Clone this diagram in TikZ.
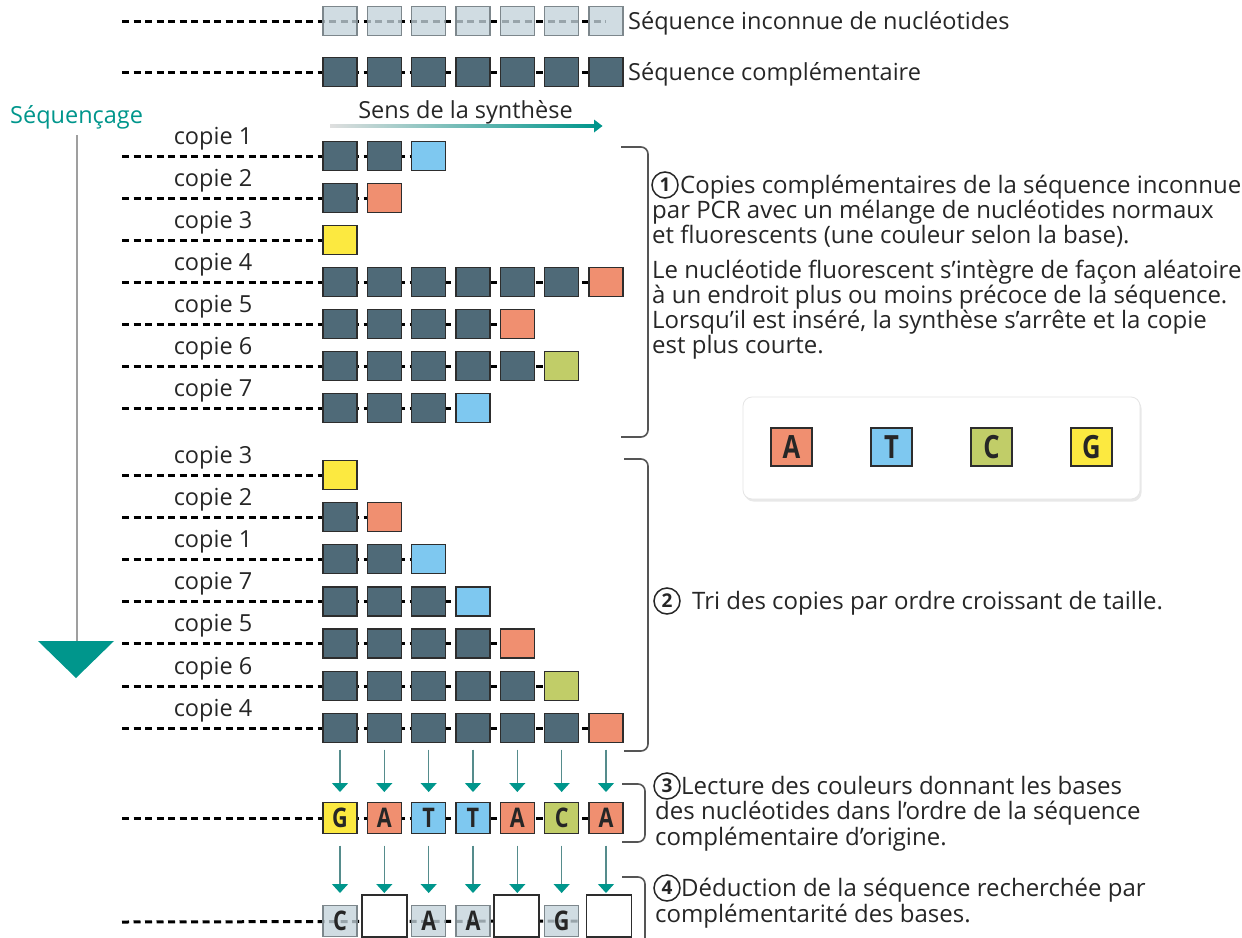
\documentclass[tikz,border=0pt]{standalone}
\usepackage{fontspec}
\setmainfont{Open Sans}
\usepackage{graphicx}
\usetikzlibrary{arrows.meta,shadows,backgrounds}
\definecolor{tealc}{RGB}{0,150,140}
\definecolor{dkc}{RGB}{79,106,120}
\definecolor{Tc}{RGB}{126,200,240}
\definecolor{Ac}{RGB}{240,143,112}
\definecolor{Cc}{RGB}{193,205,104}
\definecolor{Gc}{RGB}{252,233,64}
\definecolor{Uc}{RGB}{196,211,219}
\definecolor{Ubord}{RGB}{125,135,140}
\definecolor{bordc}{RGB}{45,45,45}
\definecolor{txtc}{RGB}{38,38,38}
\definecolor{lnc}{RGB}{85,140,140}
\definecolor{brkc}{RGB}{85,85,85}
\newcommand\fs[1]{\fontsize{#1}{#1}\selectfont}
\newcommand\cond[1]{\scalebox{0.8}[1]{#1}}
% #1 name, #2 y, #3 number of squares, #4 colours, #5 copy number
\newcommand\copyrow[5]{%
  \foreach \c [count=\i] in {#4} {\node[sq,fill=\c] (#1-\i) at ({340+44.33*(\i-1)},#2) {};}
  \coordinate (#1-s) at (122,#2);
  \begin{pgfonlayer}{background}\draw[dline] (#1-s) -- (#1-#3.west);\end{pgfonlayer}
  \node[lbl] (#1-l) at (213,{#2-12}) {copie #5};
}
\begin{document}
\begin{tikzpicture}[x=1pt,y=-1pt,
  sq/.style={draw=bordc,line width=1.3pt,minimum width=34pt,minimum height=29pt,inner sep=0pt,outer sep=0pt},
  usq/.style={sq,draw=Ubord,fill=Uc,fill opacity=0.78,text opacity=1},
  dline/.style={line width=3pt,dash pattern=on 7pt off 4.5pt,black},
  txt/.style={inner sep=0pt,text=txtc,font=\fs{23.5}},
  lbl/.style={txt,anchor=base},
  stxt/.style={inner sep=0pt,text=txtc,font=\fs{24},anchor=base west},
  circ/.style={circle,draw=txtc,line width=1.5pt,minimum size=26pt,inner sep=0pt,font=\bfseries\fs{19},text=txtc},
  brk/.style={draw=brkc,line width=1.6pt,rounded corners=7pt},
  darr/.style={draw=lnc,line width=1.3pt,-{Triangle[width=16pt,length=9pt,color=tealc]}},
  bletter/.style={font=\bfseries\fs{27},text=txtc},
  wbox/.style={draw=bordc,line width=1.4pt,fill=white,minimum width=45pt,minimum height=42pt,inner sep=0pt}
]
\useasboundingbox (0,0) rectangle (1242,937);
\begin{pgfonlayer}{background}\fill[white] (0,0) rectangle (1242,937);\end{pgfonlayer}

% ---- top sequences
\foreach \i in {1,...,7} {\node[usq] (U-\i) at ({340+44.33*(\i-1)},21) {};}
\coordinate (U-s) at (122,21);
\begin{pgfonlayer}{background}\draw[dline] (U-s) -- (U-7.center);\end{pgfonlayer}
\node[txt,anchor=base west] (Ut) at (628,29) {Séquence inconnue de nucléotides};

\foreach \i in {1,...,7} {\node[sq,fill=dkc] (K-\i) at ({340+44.33*(\i-1)},72) {};}
\coordinate (K-s) at (122,72);
\begin{pgfonlayer}{background}\draw[dline] (K-s) -- (K-7.west);\end{pgfonlayer}
\node[txt,anchor=base west] (Kt) at (628,80) {Séquence complémentaire};

% ---- sequencing arrow
\node[inner sep=0pt,anchor=base west,font=\fs{23.5},text=tealc] (seq) at (10,123) {Séquençage};
\coordinate (vtop) at (77,135);
\coordinate (vbot) at (77,642);
\draw[line width=1.5pt,draw=gray!75] (vtop) -- (vbot);
\fill[tealc] (38,641) -- (114,641) -- (76,678) -- cycle;

% ---- synthesis direction
\node[lbl] (sens) at (465.5,118) {Sens de la synthèse};
\shade[left color=gray!25,right color=tealc] (330,124.8) rectangle (596,127.3);
\fill[tealc] (594,119.5) -- (602.5,126) -- (594,132.5) -- cycle;

% ---- copies
\copyrow{A1}{156}{3}{dkc,dkc,Tc}{1}
\copyrow{A2}{198}{2}{dkc,Ac}{2}
\copyrow{A3}{240}{1}{Gc}{3}
\copyrow{A4}{282}{7}{dkc,dkc,dkc,dkc,dkc,dkc,Ac}{4}
\copyrow{A5}{324}{5}{dkc,dkc,dkc,dkc,Ac}{5}
\copyrow{A6}{366}{6}{dkc,dkc,dkc,dkc,dkc,Cc}{6}
\copyrow{A7}{408}{4}{dkc,dkc,dkc,Tc}{7}

\copyrow{S1}{475}{1}{Gc}{3}
\copyrow{S2}{517}{2}{dkc,Ac}{2}
\copyrow{S3}{559}{3}{dkc,dkc,Tc}{1}
\copyrow{S4}{601.5}{4}{dkc,dkc,dkc,Tc}{7}
\copyrow{S5}{643.5}{5}{dkc,dkc,dkc,dkc,Ac}{5}
\copyrow{S6}{686}{6}{dkc,dkc,dkc,dkc,dkc,Cc}{6}
\copyrow{S7}{728}{7}{dkc,dkc,dkc,dkc,dkc,dkc,Ac}{4}

% ---- read row
\foreach \c/\l [count=\i] in {Gc/G,Ac/A,Tc/T,Tc/T,Ac/A,Cc/C,Ac/A}
  {\node[sq,fill=\c,minimum height=31pt,bletter] (R-\i) at ({340+44.33*(\i-1)},818) {\cond{\l}};}
\coordinate (R-s) at (122,818);
\begin{pgfonlayer}{background}\draw[dline] (R-s) -- (R-7.west);\end{pgfonlayer}

% ---- deduced row
\node[usq,minimum height=31pt,bletter] (B-1) at (340,921) {\cond{C}};
\node[wbox] (B-2) at (384.3,916) {};
\node[usq,minimum height=31pt,bletter] (B-3) at (428.7,921) {\cond{A}};
\node[usq,minimum height=31pt,bletter] (B-4) at (473,921) {\cond{A}};
\node[wbox] (B-5) at (516.3,916) {};
\node[usq,minimum height=31pt,bletter] (B-6) at (561.7,921) {\cond{G}};
\node[wbox] (B-7) at (609,916) {};
\coordinate (B-s) at (122,922);
\begin{pgfonlayer}{background}\draw[dline] (B-s) -- (B-6.east);\end{pgfonlayer}

% ---- arrows
\coordinate (tip1) at (0,792);
\coordinate (tip2) at (0,893);
\foreach \i in {1,...,7} {
  \draw[darr,shorten <=7pt] (S7-\i.south) -- (S7-\i.south |- tip1);
  \draw[darr,shorten <=12pt] (R-\i.south) -- (R-\i.south |- tip2);
}

% ---- brackets
\draw[brk] (621,147) -| (648,437) -- (621,437);
\draw[brk] (624,459) -| (648,751) -- (624,751);
\draw[brk] (622,784) -| (645,842) -- (622,842);
\draw[brk] (622,877) -| (645,945);

% ---- legend
\node[draw=gray!20,line width=0.8pt,fill=white,rounded corners=9pt,minimum width=397pt,minimum height=102pt,
      drop shadow={opacity=0.18,shadow xshift=1.5pt,shadow yshift=-2.5pt}] (leg) at (941.5,448) {};
\foreach \c/\l/\x in {Ac/A/791.5,Tc/T/891.5,Cc/C/991.5,Gc/G/1091.5}
  {\node[sq,minimum width=41pt,minimum height=38pt,fill=\c,line width=1.5pt,font=\bfseries\fs{32},text=txtc] (L\l) at (\x,447) {\cond{\l}};}

% ---- step 1
\node[circ] (c1) at (665,185) {1};
\node[stxt] (s1a) at (680,193) {Copies complémentaires de la séquence inconnue};
\node[stxt] (s1b) at (652,218) {par PCR avec un mélange de nucléotides normaux};
\node[stxt] (s1c) at (652,243) {et fluorescents (une couleur selon la base).};
\node[stxt] (s1d) at (652,278) {Le nucléotide fluorescent s’intègre de façon aléatoire};
\node[stxt] (s1e) at (652,303) {à un endroit plus ou moins précoce de la séquence.};
\node[stxt] (s1f) at (652,328) {Lorsqu’il est inséré, la synthèse s’arrête et la copie};
\node[stxt] (s1g) at (652,353) {est plus courte.};

% ---- step 2
\node[circ] (c2) at (667,601) {2};
\node[stxt] (s2a) at (692,609) {Tri des copies par ordre croissant de taille.};

% ---- step 3
\node[circ] (c3) at (667,786) {3};
\node[stxt] (s3a) at (681,794) {Lecture des couleurs donnant les bases};
\node[stxt] (s3b) at (655,819.5) {des nucléotides dans l’ordre de la séquence};
\node[stxt] (s3c) at (655,845) {complémentaire d’origine.};

% ---- step 4
\node[circ] (c4) at (667,888) {4};
\node[stxt] (s4a) at (681,896) {Déduction de la séquence recherchée par};
\node[stxt] (s4b) at (655,922) {complémentarité des bases.};
\end{tikzpicture}
\end{document}
